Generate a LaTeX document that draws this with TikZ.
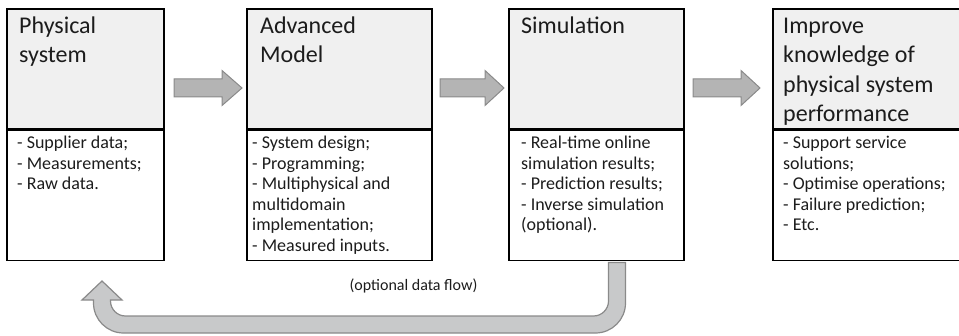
\documentclass[tikz,border=0pt]{standalone}
\usepackage{fontspec}
\setmainfont{Carlito}
\usetikzlibrary{calc}

\definecolor{headfill}{RGB}{240,240,240}
\definecolor{arrowfill}{RGB}{180,180,180}
\definecolor{arrowline}{RGB}{138,138,138}
\definecolor{loopfill}{RGB}{200,201,202}
\definecolor{inktext}{RGB}{28,28,28}

\begin{document}
\begin{tikzpicture}[x=1pt,y=1pt,
  panel/.style={draw=black, line width=1.6pt, inner sep=0pt, anchor=north west},
  headpanel/.style={panel, fill=headfill},
  titletext/.style={anchor=north west, inner sep=0pt, align=left,
    font=\fontsize{24}{29.5}\selectfont, text=inktext},
  listtext/.style={anchor=north west, inner sep=0pt, align=left,
    font=\fontsize{18}{20.5}\selectfont, text=inktext},
  blockarrow/.style={fill=arrowfill, draw=arrowline, line width=1pt, line join=miter},
  looparrow/.style={fill=loopfill, draw=arrowline, line width=1.2pt, line join=miter}]
\useasboundingbox (0,0) rectangle (959,335);

% four stages: grey heading panel above a white list panel
\node[headpanel, minimum width=157pt, minimum height=120pt] (h1) at (6,327) {};
\node[panel, minimum width=157pt, minimum height=130pt] (l1) at (h1.south west) {};
\node[headpanel, minimum width=185pt, minimum height=120pt] (h2) at (246,327) {};
\node[panel, minimum width=185pt, minimum height=130pt] (l2) at (h2.south west) {};
\node[headpanel, minimum width=175pt, minimum height=120pt] (h3) at (508,327) {};
\node[panel, minimum width=175pt, minimum height=130pt] (l3) at (h3.south west) {};
\node[headpanel, minimum width=190pt, minimum height=120pt] (h4) at (772,327) {};
\node[panel, minimum width=190pt, minimum height=130pt] (l4) at (h4.south west) {};

% headings
\node[titletext] (t1) at ($(h1.north west)+(13,-4.3)$) {\strut Physical\\system};
\node[titletext] (t2) at ($(h2.north west)+(14,-4.3)$) {\strut Advanced\\Model};
\node[titletext] (t3) at ($(h3.north west)+(13,-4.3)$) {\strut Simulation};
\node[titletext] (t4) at ($(h4.north west)+(11,-4.3)$) {\strut Improve\\knowledge of\\physical system\\performance};

% lists
\node[listtext] (s1) at ($(l1.north west)+(11,-4.6)$) {\strut - Supplier data;\\- Measurements;\\- Raw data.};
\node[listtext] (s2) at ($(l2.north west)+(6,-4.6)$) {\strut - System design;\\- Programming;\\- Multiphysical and\\multidomain\\implementation;\\- Measured inputs.};
\node[listtext] (s3) at ($(l3.north west)+(13,-4.6)$) {\strut - Real-time online\\simulation results;\\- Prediction results;\\- Inverse simulation\\(optional).};
\node[listtext] (s4) at ($(l4.north west)+(11,-4.6)$) {\strut - Support service\\solutions;\\- Optimise operations;\\- Failure prediction;\\- Etc.};

% block arrows between the stages: tail / head base / tip
\foreach \t/\b/\p in {174/222/242, 440/485/504, 693/741/760}{
  \draw[blockarrow] (\t,238) -- (\b,238) -- (\b,229.5) -- (\p,247)
    -- (\b,264.5) -- (\b,256) -- (\t,256) -- cycle;
}

% feedback arrow from the simulation back to the physical system
\draw[looparrow] (608.5,72.5) -- (625.5,72.5) -- (625.5,32)
  arc[start angle=0, end angle=-90, radius=30] -- (123.5,2)
  arc[start angle=270, end angle=180, radius=30] -- (93.5,35)
  -- (82,35) -- (102,54) -- (122,35) -- (110.5,35) -- (110.5,34)
  arc[start angle=180, end angle=270, radius=15] -- (593.5,19)
  arc[start angle=270, end angle=360, radius=15] -- cycle;
\node[font=\fontsize{16}{19}\selectfont, text=inktext, anchor=base] (lbl) at (413.5,45) {(optional data flow)};
\end{tikzpicture}
\end{document}
